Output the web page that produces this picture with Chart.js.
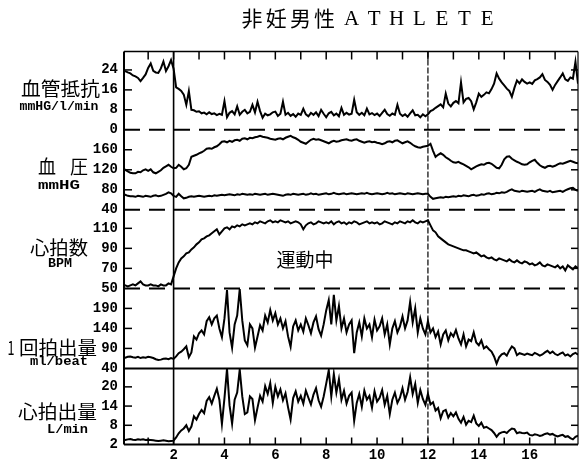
<!DOCTYPE html>
<html>
<head>
<meta charset="utf-8">
<script src="https://cdn.jsdelivr.net/npm/chart.js@4.4.1/dist/chart.umd.min.js"></script>
<style>
  html, body { margin: 0; padding: 0; background: #fff; }
  canvas { display: block; }
</style>
</head>
<body>
<canvas id="chart" width="579" height="467"></canvas>
<script>
// Sampling grid: one reading every 0.1 min, from 0.0 to 17.9 min
const startMin = 0.0;
const stepMin = 0.1;

// 血管抵抗 (mmHG/l/min)
const resistance = [
  23.5, 23.5, 23.0, 22.6, 21.8, 21.4, 20.8, 19.5, 20.8, 22.2,
  24.8, 26.6, 23.6, 23.0, 22.8, 24.6, 27.4, 23.6, 25.5, 28.0,
  24.5, 17.0, 16.4, 15.6, 14.1, 10.0, 15.5, 8.0, 7.8, 7.2,
  7.4, 6.6, 6.9, 6.2, 7.0, 6.3, 6.6, 5.9, 6.4, 6.0,
  11.5, 5.0, 6.8, 7.5, 6.2, 9.4, 6.0, 7.2, 8.0, 6.6,
  7.2, 10.0, 7.0, 11.2, 7.5, 4.8, 6.5, 5.8, 6.2, 7.0,
  7.3, 5.5, 6.4, 11.2, 6.0, 6.8, 5.6, 6.3, 5.2, 6.5,
  6.0, 8.4, 6.2, 5.4, 6.8, 6.0, 7.0, 5.5, 8.0, 6.4,
  5.0, 6.6, 7.2, 5.8, 6.5, 5.4, 8.8, 6.0, 6.8, 6.1,
  6.4, 12.0, 7.0, 6.0, 6.8, 5.8, 8.5, 6.2, 6.7, 5.9,
  6.5, 5.5, 6.8, 8.0, 6.3, 5.6, 6.5, 6.0, 10.0, 6.4,
  5.5, 6.2, 5.2, 6.6, 7.8, 5.8, 6.0, 5.0, 6.2, 5.4,
  6.2, 7.5, 8.0, 8.8, 9.5, 10.2, 9.0, 14.5, 10.5, 9.4,
  10.8, 11.5, 10.6, 19.0, 11.0, 12.4, 12.8, 11.5, 8.2, 11.0,
  14.5, 13.2, 14.0, 15.0, 14.6, 16.3, 18.5, 22.6, 20.5, 19.0,
  17.8, 16.5, 15.6, 13.2, 16.8, 19.8, 18.6, 20.2, 19.2, 18.5,
  19.0, 18.4, 19.8, 20.3, 21.0, 22.3, 20.0, 19.2, 18.0, 16.0,
  18.0, 19.5, 21.0, 22.6, 20.2, 19.6, 21.0, 20.5, 27.3, 18.5
];

// 血圧 (mmHG): systolic
const systolic = [
  121, 120, 117, 114, 113, 113, 116, 115, 119, 121,
  118, 121, 115, 113, 116, 119, 124, 127, 130, 126,
  123, 124, 130, 126, 121, 123, 130, 146, 148, 150,
  153, 155, 158, 162, 163, 162, 165, 167, 171, 176,
  177, 175, 178, 176, 179, 180, 178, 182, 183, 181,
  184, 183, 185, 186, 188, 186, 185, 184, 182, 181,
  180, 182, 183, 181, 184, 186, 188, 185, 183, 180,
  176, 174, 172, 176, 180, 182, 180, 181, 179, 177,
  175, 173, 176, 178, 176, 177, 179, 180, 181, 179,
  178, 180, 181, 178, 176, 174, 176, 177, 175, 176,
  174, 173, 171, 173, 176, 177, 175, 178, 179, 176,
  173, 175, 177, 174, 170, 167, 165, 164, 166, 167,
  168, 172, 158, 146, 150, 153, 150, 145, 142, 138,
  135, 134, 136, 133, 131, 128, 125, 121, 124, 127,
  129, 131, 130, 133, 134, 132, 128, 124, 123, 130,
  141, 146, 147, 142, 139, 136, 134, 131, 130, 131,
  135, 138, 140, 134, 129, 126, 124, 127, 128, 126,
  128, 131, 133, 132, 134, 136, 138, 136, 134, 133
];

// 血圧 (mmHG): diastolic
const diastolic = [
  70, 70, 68, 67, 67, 66, 68, 67, 66, 68,
  67, 66, 68, 69, 67, 68, 70, 72, 75, 73,
  68, 66, 72, 67, 63, 64, 66, 67, 66, 67,
  68, 67, 66, 67, 68, 67, 69, 68, 69, 70,
  69, 70, 71, 70, 69, 71, 70, 72, 71, 70,
  71, 70, 72, 71, 70, 71, 72, 70, 71, 72,
  71, 70, 69, 68, 70, 71, 70, 72, 71, 70,
  71, 72, 70, 71, 73, 71, 72, 70, 71, 72,
  73, 71, 72, 74, 72, 71, 72, 73, 71, 72,
  73, 72, 71, 72, 73, 72, 74, 72, 71, 72,
  73, 72, 71, 72, 74, 72, 73, 71, 72, 73,
  72, 71, 73, 72, 71, 72, 73, 72, 71, 72,
  72, 66, 62, 63, 64, 65, 64, 66, 65, 66,
  67, 66, 68, 67, 69, 68, 67, 69, 70, 68,
  69, 71, 70, 72, 73, 71, 72, 74, 73, 75,
  74, 76, 79, 81, 78, 77, 76, 78, 77, 76,
  77, 78, 76, 79, 81, 78, 77, 76, 78, 75,
  76, 77, 78, 76, 79, 81, 83, 84, 80, 78
];

// 心拍数 (BPM)
const heartRate = [
  54, 53, 52, 53, 54, 53, 55, 57, 54, 53,
  53, 54, 53, 53, 52, 54, 53, 53, 55, 54,
  62, 70, 76, 80, 82, 85, 86, 89, 91, 94,
  96, 99, 100, 102, 103, 105, 107, 109, 104, 107,
  110, 111, 109, 112, 111, 113, 112, 114, 113, 114,
  115, 114, 116, 115, 117, 116, 115, 117, 118, 116,
  117, 116, 118, 117, 116, 117, 115, 116, 117, 116,
  114, 109, 113, 115, 116, 114, 115, 117, 116, 115,
  116, 115, 117, 114, 116, 117, 115, 116, 114, 116,
  115, 117, 116, 114, 115, 116, 117, 115, 116, 115,
  116, 114, 115, 117, 116, 115, 114, 116, 115, 117,
  116, 115, 117, 116, 118, 116, 115, 117, 116, 117,
  118, 113, 108, 106, 102, 100, 98, 96, 94, 93,
  92, 91, 90, 89, 88, 88, 87, 86, 85, 86,
  84, 82, 83, 81, 80, 81, 79, 78, 80, 79,
  78, 77, 79, 77, 76, 78, 76, 75, 77, 76,
  74, 75, 73, 74, 76, 73, 72, 74, 73, 72,
  71, 73, 70, 72, 68, 73, 71, 69, 72, 70
];

// 1回拍出量 (ml/beat)
const strokeVolume = [
  68, 67, 69, 70, 68, 67, 69, 66, 68, 67,
  69, 68, 66, 63, 61, 62, 64, 65, 63, 66,
  64, 70, 78, 82, 88, 95, 68, 80, 120, 112,
  128, 135, 125, 158, 168, 150, 165, 172, 140, 118,
  165, 236, 130, 92, 150, 172, 238, 160, 110, 98,
  150, 140, 92, 120, 148, 135, 172, 155, 186, 160,
  178, 150, 165, 140, 158, 120, 94, 145, 160, 135,
  150, 132, 165, 148, 128, 155, 170, 138, 122, 150,
  185, 211, 150, 224, 160, 196, 140, 165, 130, 150,
  160, 78, 130, 155, 120, 165, 140, 150, 118, 162,
  135, 145, 165, 125, 150, 100, 140, 158, 130, 145,
  170, 140, 160, 206, 155, 190, 130, 165, 140, 125,
  158, 130, 140, 118, 132, 100, 125, 135, 110, 128,
  120, 136, 115, 100, 125, 95, 112, 108, 130, 105,
  98, 110, 90, 95, 88, 82, 70, 52, 68, 75,
  78, 72, 85, 95, 90, 73, 78, 76, 74, 77,
  75, 73, 79, 76, 72, 75, 80, 84, 78, 82,
  76, 73, 77, 80, 72, 75, 70, 76, 79, 74
];

// 心拍出量 (L/min)
const cardiacOutput = [
  3.5, 3.4, 3.6, 3.7, 3.5, 3.4, 3.6, 3.5, 3.6, 3.4,
  3.5, 3.4, 3.3, 3.2, 3.1, 3.2, 3.3, 3.2, 3.0, 3.1,
  3.2, 4.2, 5.5, 6.4, 7.0, 8.0, 6.2, 7.6, 10.8, 9.8,
  11.5, 12.8, 11.8, 15.6, 16.8, 14.8, 17.2, 19.4, 16.0, 8.4,
  16.5, 25.6, 14.2, 8.5, 16.0, 18.2, 25.4, 17.0, 11.5, 12.0,
  17.0, 16.2, 9.6, 13.5, 17.2, 15.4, 20.2, 17.8, 21.2, 15.0,
  20.0, 17.0, 19.2, 15.8, 18.0, 13.6, 9.8, 16.5, 18.6, 15.4,
  17.2, 14.8, 18.8, 16.6, 14.5, 17.6, 19.6, 15.8, 13.8, 17.0,
  21.0, 25.2, 17.0, 24.0, 18.2, 22.4, 16.0, 18.8, 14.8, 17.2,
  18.2, 9.4, 15.0, 17.8, 13.8, 18.8, 16.0, 17.2, 13.5, 18.6,
  15.4, 16.6, 19.0, 14.4, 17.2, 11.5, 16.0, 18.2, 15.0, 16.6,
  19.6, 16.0, 18.4, 23.0, 17.8, 20.9, 15.0, 19.0, 16.2, 14.4,
  17.8, 14.5, 15.2, 12.6, 13.4, 10.2, 12.4, 12.8, 10.4, 11.8,
  10.8, 12.0, 10.0, 8.8, 10.6, 8.2, 9.4, 9.0, 11.0, 8.6,
  7.8, 8.8, 7.2, 7.5, 7.0, 6.5, 5.6, 4.4, 5.4, 5.8,
  6.0, 5.6, 6.4, 7.0, 6.8, 5.5, 5.8, 5.6, 5.5, 5.7,
  5.0, 4.8, 5.2, 5.0, 4.7, 4.9, 5.3, 5.5, 5.1, 5.3,
  4.8, 4.5, 4.8, 5.0, 4.4, 4.6, 4.0, 3.6, 4.4, 4.8
];

// Tick labels of each panel and of the time axis (minutes)
const resistanceTicks = [0, 8, 16, 24];
const pressureTicks = [40, 80, 120, 160];
const heartRateTicks = [50, 70, 90, 110];
const strokeTicks = [40, 90, 140, 190];
const outputTicks = [2, 8, 14, 20];
const minuteTicks = [1, 2, 3, 4, 5, 6, 7, 8, 9, 10, 11, 12, 13, 14, 15, 16, 17];
const minuteLabels = [2, 4, 6, 8, 10, 12, 14, 16];
const exerciseStart = 2;
const exerciseEnd = 12;

const titleCJK = '非妊男性';
const titleLatin = 'ATHLETE';
const exerciseLabel = '運動中';

const times = resistance.map((_, i) => Math.round((startMin + i * stepMin) * 10) / 10);
const points = arr => arr.map((v, i) => ({ x: times[i], y: v }));

const MONO = '"Liberation Mono", "DejaVu Sans Mono", monospace';
const CJK = '"Noto Sans CJK JP", "Noto Sans CJK SC", sans-serif';
const SERIF = '"Liberation Serif", "DejaVu Serif", serif';

// one stacked panel axis on the left
function panelAxis(ticks, min, max, stackWeight, order) {
  return {
    type: 'linear',
    position: 'left',
    stack: 'panels',
    stackWeight: stackWeight,
    weight: order,
    min: min,
    max: max,
    grid: { display: false, drawTicks: false },
    border: { display: false },
    afterBuildTicks: s => { s.ticks = ticks.map(v => ({ value: v })); },
    afterFit: s => { s.width = 124; },
    ticks: {
      autoSkip: false,
      padding: 6,
      color: '#000',
      font: { family: MONO, size: 14, weight: 'bold' },
      callback: v => String(v)
    }
  };
}

const panelAxes = ['yRes', 'yBP', 'yHR', 'ySV', 'yCO'];
const panelTickSets = {
  yRes: resistanceTicks, yBP: pressureTicks, yHR: heartRateTicks, ySV: strokeTicks, yCO: outputTicks
};

// left-hand panel captions, offsets from the panel top
const captions = {
  yRes: { main: '血管抵抗', mx: 60.5, my: 37.5, mw: 79, unit: 'mmHG/l/min', ux: 59, uy: 55.5, uw: 79 },
  yBP:  { main: null, mx: 0, my: 37.3, mw: 0, unit: 'mmHG', ux: 59, uy: 56.3, uw: 42 },
  yHR:  { main: '心拍数', mx: 59, my: 38.2, mw: 58, unit: 'BPM', ux: 60, uy: 54.2, uw: 24 },
  ySV:  { main: '回拍出量', mx: 58, my: 59.7, mw: 78, unit: 'ml/beat', ux: 59, uy: 73.7, uw: 58 },
  yCO:  { main: '心拍出量', mx: 57.5, my: 43.7, mw: 79, unit: 'L/min', ux: 67.5, uy: 61.7, uw: 41 }
};

function drawFit(ctx, text, cx, cy, font, width) {
  ctx.save();
  ctx.font = font;
  const w = ctx.measureText(text).width;
  ctx.translate(cx, cy);
  if (width) ctx.scale(width / w, 1);
  ctx.textAlign = 'center';
  ctx.textBaseline = 'middle';
  ctx.fillStyle = '#000';
  ctx.fillText(text, 0, 0);
  ctx.restore();
}

function seg(ctx, x1, y1, x2, y2) {
  ctx.beginPath();
  ctx.moveTo(x1, y1);
  ctx.lineTo(x2, y2);
  ctx.stroke();
}

const panelFrame = {
  id: 'panelFrame',
  beforeDatasetsDraw(chart) {
    const { ctx, chartArea: a, scales } = chart;
    const xs = scales.x;
    ctx.save();
    ctx.strokeStyle = '#000';
    // separators between panels
    panelAxes.forEach((id, i) => {
      if (i === panelAxes.length - 1) return;
      const s = scales[id];
      const y = s.getPixelForValue(s.min);
      ctx.lineWidth = 2;
      ctx.setLineDash(i < 3 ? [16, 9] : []);
      seg(ctx, a.left, y, a.right, y);
    });
    // start and end of exercise
    ctx.setLineDash([]);
    ctx.lineWidth = 1.6;
    const x2 = xs.getPixelForValue(exerciseStart);
    seg(ctx, x2, a.top, x2, a.bottom);
    ctx.lineWidth = 1.2;
    ctx.setLineDash([6, 2]);
    const x12 = xs.getPixelForValue(exerciseEnd);
    seg(ctx, x12, a.top, x12, a.bottom);
    ctx.restore();
  },
  afterDraw(chart) {
    const { ctx, chartArea: a, scales } = chart;
    const xs = scales.x;
    ctx.save();
    ctx.strokeStyle = '#000';
    ctx.lineWidth = 2;
    ctx.setLineDash([]);
    // frame
    seg(ctx, a.left, a.top, a.left, a.bottom);
    seg(ctx, a.left, a.bottom, a.right, a.bottom);
    ctx.lineWidth = 1.5;
    seg(ctx, a.left, a.top, a.right, a.top);
    ctx.lineWidth = 1.2;
    seg(ctx, a.right, a.top, a.right, a.bottom);
    // inward tick marks on the panels
    ctx.lineWidth = 1.5;
    panelAxes.forEach(id => {
      const s = scales[id];
      panelTickSets[id].forEach(v => {
        if (v === s.min) return;
        const y = s.getPixelForValue(v);
        seg(ctx, a.left, y, a.left + 8, y);
        seg(ctx, a.right - 7, y, a.right, y);
      });
    });
    // minute ticks along top and bottom
    minuteTicks.forEach(v => {
      const x = xs.getPixelForValue(v);
      seg(ctx, x, a.top, x, a.top + 8);
      seg(ctx, x, a.bottom, x, a.bottom - 7);
    });
    // panel captions
    panelAxes.forEach(id => {
      const s = scales[id];
      const c = captions[id];
      if (c.main) drawFit(ctx, c.main, c.mx, s.top + c.my, '19px ' + CJK, c.mw);
      drawFit(ctx, c.unit, c.ux, s.top + c.uy, 'bold 13px ' + MONO, c.uw);
    });
    // 血 圧 and the leading "1"
    const bp = scales.yBP;
    drawFit(ctx, '血', 47, bp.top + 37.3, '19px ' + CJK, 18);
    drawFit(ctx, '圧', 79, bp.top + 37.3, '19px ' + CJK, 18);
    const sv = scales.ySV;
    drawFit(ctx, '1', 11, sv.top + 59.7, '19px ' + CJK, 7);
    // exercise label
    drawFit(ctx, exerciseLabel, 305, 260, '19px ' + CJK, 57);
    // title
    for (let i = 0; i < titleCJK.length; i++) {
      drawFit(ctx, titleCJK[i], 252 + i * 24.2, 18, '21px ' + CJK, 21);
    }
    for (let i = 0; i < titleLatin.length; i++) {
      drawFit(ctx, titleLatin[i], 351.5 + i * 22.6, 19, '21px ' + SERIF, null);
    }
    ctx.restore();
  }
};

const lineStyle = {
  borderColor: '#000',
  borderWidth: 2,
  pointRadius: 0,
  tension: 0,
  fill: false
};

new Chart(document.getElementById('chart'), {
  type: 'line',
  data: {
    datasets: [
      Object.assign({ label: '血管抵抗', data: points(resistance), yAxisID: 'yRes' }, lineStyle),
      Object.assign({ label: '収縮期血圧', data: points(systolic), yAxisID: 'yBP' }, lineStyle),
      Object.assign({ label: '拡張期血圧', data: points(diastolic), yAxisID: 'yBP' }, lineStyle),
      Object.assign({ label: '心拍数', data: points(heartRate), yAxisID: 'yHR' }, lineStyle),
      Object.assign({ label: '1回拍出量', data: points(strokeVolume), yAxisID: 'ySV' }, lineStyle),
      Object.assign({ label: '心拍出量', data: points(cardiacOutput), yAxisID: 'yCO' }, lineStyle)
    ]
  },
  options: {
    responsive: false,
    animation: false,
    devicePixelRatio: 1,
    layout: { padding: { top: 51.5, right: 1, left: 0, bottom: 0 } },
    plugins: { legend: { display: false }, tooltip: { enabled: false }, title: { display: false } },
    scales: {
      x: {
        type: 'linear',
        min: 0.05,
        max: 17.9,
        grid: { display: false, drawTicks: false },
        border: { display: false },
        afterBuildTicks: s => { s.ticks = minuteTicks.map(v => ({ value: v })); },
        afterFit: s => { s.height = 22.5; },
        ticks: {
          autoSkip: false,
          maxRotation: 0,
          padding: 3,
          color: '#000',
          font: { family: MONO, size: 14, weight: 'bold' },
          callback: v => minuteLabels.includes(v) ? String(v) : ''
        }
      },
      yRes: panelAxis(resistanceTicks, 0, 31.4, 78.2, 5),
      yBP: panelAxis(pressureTicks, 40, 200, 80, 4),
      yHR: panelAxis(heartRateTicks, 50, 128.5, 78.5, 3),
      ySV: panelAxis(strokeTicks, 40, 240, 80, 2),
      yCO: panelAxis(outputTicks, 2, 25.75, 76, 1)
    }
  },
  plugins: [panelFrame]
});
</script>
</body>
</html>
